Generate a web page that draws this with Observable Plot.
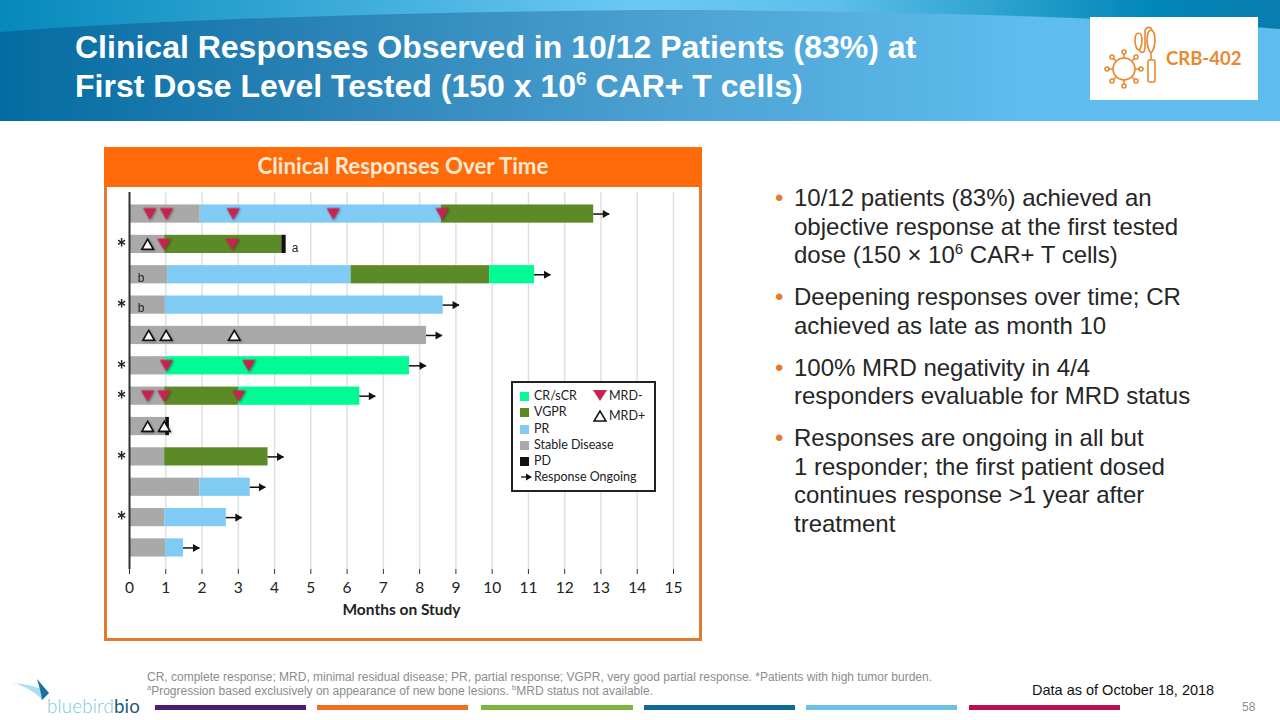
<!DOCTYPE html>
<html><head><meta charset="utf-8">
<script src="https://cdn.jsdelivr.net/npm/d3@7"></script>
<script src="https://cdn.jsdelivr.net/npm/@observablehq/plot@0.6"></script>
<style>
html,body{margin:0;padding:0;background:#fff;}
#slide{position:relative;width:1280px;height:720px;overflow:hidden;background:#fff;font-family:"Liberation Sans",Arial,sans-serif;}
#slide>*{position:absolute;}
#hdr{left:0;top:0;width:1280px;height:121px;background:linear-gradient(90deg,#046ca2 0%,#2a82b6 25%,#4a9fd0 50%,#5fbcee 80%,#5fbcee 100%);}
#title{left:75px;top:28px;color:#fff;font-weight:bold;font-size:32px;line-height:39px;white-space:nowrap;}
#title sup{font-size:19px;line-height:0;}
#badge{left:1090px;top:17px;width:168px;height:83px;background:#fff;}
#badgeText{left:1166px;top:47px;color:#e8892f;font:bold 18.5px Lato;}
#band{left:104px;top:147px;width:598px;height:40px;background:#ff6a0a;color:#fde9d0;font:bold 22.3px/38px Lato;text-align:center;}
#frame{left:104px;top:187px;width:592px;height:451px;border:3px solid #e07a30;border-top:0;}
#chart{left:0;top:0;width:1280px;height:720px;}
#bul{left:794px;top:184px;color:#262626;font-size:24px;line-height:28.7px;white-space:nowrap;}
#bul div{position:relative;margin-bottom:13px;}
#bul div:before{content:"•";color:#e8792a;position:absolute;left:-19px;}
#bul sup{font-size:15px;line-height:0;}
#legend{left:511px;top:381px;width:141px;height:107px;border:2px solid #222;background:#fff;}
.lg{position:absolute;font:12.5px/14px Lato;color:#222;white-space:nowrap;}
.sw{position:absolute;width:9px;height:9px;}
#fn{left:147px;top:670px;color:#8c8c8c;font-size:12px;line-height:14px;white-space:nowrap;}
#fn sup{font-size:7.5px;line-height:0;}
#asof{left:1032px;top:682px;font-size:14.5px;color:#111;white-space:nowrap;}
#pg{left:1242px;top:700px;font-size:12px;color:#8c8c8c;}
.foot{top:705px;height:5px;}
#bird{left:47px;top:695px;font:300 18.7px Lato;color:#7cc6e6;letter-spacing:.2px;white-space:nowrap;}
#bird b{font-weight:400;color:#1d5a7a;}
</style></head>
<body><div id="slide">
<div id="hdr"></div>
<svg style="left:0;top:0" width="1280" height="121"><defs><linearGradient id="wave"><stop offset="0" stop-color="#0589bb"/><stop offset=".5" stop-color="#6cc9f5"/><stop offset=".65" stop-color="#5ebfea"/><stop offset=".9" stop-color="#0087b8"/><stop offset="1" stop-color="#0a7cae"/></linearGradient></defs><path d="M0 0H1280V29C1100 15 800 10 640 10C400 12 150 20 0 32Z" fill="url(#wave)"/></svg>
<div id="title">Clinical Responses Observed in 10/12 Patients (83%) at<br>First Dose Level Tested (150 x 10<sup>6</sup> CAR+ T cells)</div>
<div id="badge"></div>
<svg style="left:1100px;top:20px" width="66" height="70" fill="none" stroke="#e8892f" stroke-width="1.6"><circle cx="24" cy="49" r="11"/><g><path d="M24 38V34M24 60V64M13 49H9M35 49H39M16 41L13 38M32 41L35 38M16 57L13 60M32 57L35 60"/><circle cx="24" cy="32" r="2"/><circle cx="24" cy="66" r="2"/><circle cx="7" cy="49" r="2"/><circle cx="41" cy="49" r="2"/><circle cx="12" cy="37" r="2"/><circle cx="36" cy="37" r="2"/><circle cx="12" cy="61" r="2"/><circle cx="36" cy="61" r="2"/></g><path d="M35 20c0-9 7-9 7 0 0 8-3 10-3.500 10s-3.500-2-3.500-10zM47 20c0-13 8-13 8 0 0 9-4 13-4 13s-4-4-4-13zM51 33v7"/><rect x="48" y="40" width="7" height="22" rx="1.500"/><path d="M39 30c3 4 6 3 6-3V12c0-6 7-6 7-1"/></svg>
<div id="badgeText">CRB-402</div>
<div id="band">Clinical Responses Over Time</div>
<div id="frame"></div>
<div id="chart"></div>
<div id="legend"></div>
<div id="bul">
<div>10/12 patients (83%) achieved an<br>objective response at the first tested<br>dose (150 × 10<sup>6</sup> CAR+ T cells)</div>
<div>Deepening responses over time; CR<br>achieved as late as month 10</div>
<div>100% MRD negativity in 4/4<br>responders evaluable for MRD status</div>
<div>Responses are ongoing in all but<br>1 responder; the first patient dosed<br>continues response &gt;1 year after<br>treatment</div>
</div>
<div id="fn">CR, complete response; MRD, minimal residual disease; PR, partial response; VGPR, very good partial response. *Patients with high tumor burden.<br><sup>a</sup>Progression based exclusively on appearance of new bone lesions. <sup>b</sup>MRD status not available.</div>
<div id="asof">Data as of October 18, 2018</div>
<div id="pg">58</div>
<svg style="left:12px;top:678px" width="50" height="30"><path d="M1 5C12 8 24 14 30 22L37 15C26 8 12 6 1 5Z" fill="#a9dff3"/><path d="M25 1L37 15L30 22C29 14 27 8 25 1Z" fill="#1d6f9e"/></svg>
<div id="bird">bluebird<b>bio</b></div>
<div class="foot" style="left:155px;width:151px;background:#4b1f6a"></div>
<div class="foot" style="left:317px;width:151px;background:#ee7020"></div>
<div class="foot" style="left:481px;width:152px;background:#7db53f"></div>
<div class="foot" style="left:644px;width:151px;background:#0d6a97"></div>
<div class="foot" style="left:806px;width:151px;background:#6cc0e6"></div>
<div class="foot" style="left:969px;width:151px;background:#b5104f"></div>
</div>
<script>
const patients = ["P1","P2","P3","P4","P5","P6","P7","P8","P9","P10","P11","P12"];
const stableEnd = [1.95,0.97,1.05,0.99,8.19,1.0,0.97,1.0,0.97,1.94,0.97,1.0];
const prEnd   = [8.6,null,6.11,8.65,null,null,null,null,null,3.33,2.67,1.49];
const vgprEnd = [12.8,4.2,9.93,null,null,null,3.01,null,3.82,null,null,null];
const crEnd   = [null,null,11.17,null,null,7.72,6.35,null,null,null,null,null];
const pdEnd   = [null,4.32,null,null,null,null,null,1.1,null,null,null,null];
const arrowEnd = [13.24,null,11.62,9.1,8.63,8.19,6.79,null,4.26,3.76,3.11,1.94];
const lastBar = [12.8,null,11.17,8.65,8.19,7.72,6.35,null,3.82,3.33,2.67,1.49];
const mrdNegPatient = ["P1","P1","P1","P1","P1","P2","P2","P6","P6","P7","P7","P7"];
const mrdNegMonth = [0.56,1.02,2.86,5.62,8.62,0.95,2.84,1.02,3.29,0.5,0.95,3.02];
const mrdPosPatient = ["P2","P5","P5","P5","P8","P8"];
const mrdPosMonth = [0.5,0.53,1.01,2.89,0.5,0.96];
const highBurden = ["P2","P4","P6","P7","P9","P11"];
const noMrdStatus = ["P3","P4"];
const statusNames = ["CR/sCR","VGPR","PR","Stable Disease","PD"];
const statusColors = ["#00fb94","#5c8a26","#80cbf4","#a9a9a9","#111111"];
const monthTicks = [0,1,2,3,4,5,6,7,8,9,10,11,12,13,14,15];
const legendRows = [...statusNames,"Response Ongoing"];

const color = Object.fromEntries(statusNames.map((s,i)=>[s,statusColors[i]]));
const segs = [];
patients.forEach((p,i)=>{
  let start = 0;
  [["Stable Disease",stableEnd],["PR",prEnd],["VGPR",vgprEnd],["CR/sCR",crEnd],["PD",pdEnd]].forEach(([s,a])=>{
    if(a[i]!=null){segs.push({p,s,x1:start,x2:a[i],fill:color[s]});start=a[i];}
  });
});
const arrows = patients.map((p,i)=>({p,x1:lastBar[i],x2:arrowEnd[i]})).filter(d=>d.x2!=null);
const neg = mrdNegPatient.map((p,i)=>({p,x:mrdNegMonth[i]}));
const pos = mrdPosPatient.map((p,i)=>({p,x:mrdPosMonth[i]}));
const shadow = "drop-shadow(1px 1px 1px rgba(0,0,0,.35))";

const chart = Plot.plot({
  width:1280,height:720,
  marginLeft:129,marginRight:607,marginTop:192,marginBottom:151,
  style:{background:"transparent",fontFamily:"Lato",fontSize:"14px",color:"#222",overflow:"visible"},
  x:{domain:[0,15],axis:null},
  y:{domain:patients,axis:null,paddingInner:0.4,paddingOuter:0.41,round:false},
  marks:[
    Plot.ruleX(monthTicks.slice(1),{stroke:"#e0e0e0",strokeWidth:1.5}),
    Plot.barX(segs,{x1:"x1",x2:"x2",y:"p",fill:"fill"}),
    Plot.ruleY(arrows,{x1:"x1",x2:"x2",y:"p",stroke:"#111",strokeWidth:1.5}),
    Plot.dot(arrows,{x:"x2",y:"p",symbol:"triangle",r:3,rotate:90,fill:"#111",dx:-4.6}),
    Plot.ruleX([0],{stroke:"#333",strokeWidth:2}),
    Plot.axisX({anchor:"bottom",ticks:monthTicks,tickFormat:d=>d,tickSize:5,tickPadding:7,fontSize:15.5,label:"Months on Study",labelAnchor:"center",labelArrow:"none",labelOffset:45,stroke:"#333"}),
    Plot.dot(neg,{x:"x",y:"p",symbol:"triangle",r:5,rotate:180,fill:"#c8234f",dy:-2,imageFilter:shadow}),
    Plot.dot(pos,{x:"x",y:"p",symbol:"triangle",r:4.3,fill:"#fff",stroke:"#111",strokeWidth:1.6,dy:1.5,imageFilter:shadow}),
    Plot.text(highBurden,{x:()=>0,y:d=>d,text:()=>"*",dx:-8,dy:5,fontWeight:"bold",fontSize:24,fill:"#222"}),
    Plot.text(noMrdStatus,{x:()=>0,y:d=>d,text:()=>"b",dx:11.5,dy:3,fontSize:12,fontFamily:"Liberation Sans",fill:"#222"}),
    Plot.text(["P2"],{x:()=>4.32,y:d=>d,text:()=>"a",dx:9,dy:4,fontSize:12,fontFamily:"Liberation Sans",fill:"#222"})
  ]
});
chart.style.position="absolute";chart.style.left="0";chart.style.top="0";chart.style.maxWidth="none";
const axl = chart.querySelector('g[aria-label="x-axis label"]');
if(axl) axl.style.fontWeight="bold";
document.getElementById("chart").appendChild(chart);

// legend
const lg = document.getElementById("legend");
const rowsY = [6,22,39,55,71,87];
legendRows.forEach((t,i)=>{
  const e=document.createElement("div");e.className="lg";e.style.left="21px";e.style.top=rowsY[i]+"px";e.textContent=t;lg.appendChild(e);
  if(i<5){const s=document.createElement("div");s.className="sw";s.style.left="7px";s.style.top=(rowsY[i]+3)+"px";s.style.background=statusColors[i];lg.appendChild(s);}
});
lg.insertAdjacentHTML("beforeend",`
<svg style="position:absolute;left:0;top:0" width="141" height="107">
<path d="M8 94H17" stroke="#111" stroke-width="1.3"/><path d="M13 90.5L19 94L13 97.5Z" fill="#111"/>
<path d="M80 7H94L87 18Z" fill="#c8234f"/><path d="M81 38H93L87 28Z" fill="#fff" stroke="#111" stroke-width="1.5"/></svg>
<div class="lg" style="left:96px;top:6px">MRD-</div><div class="lg" style="left:96px;top:26px">MRD+</div>`);
</script>
</body></html>
